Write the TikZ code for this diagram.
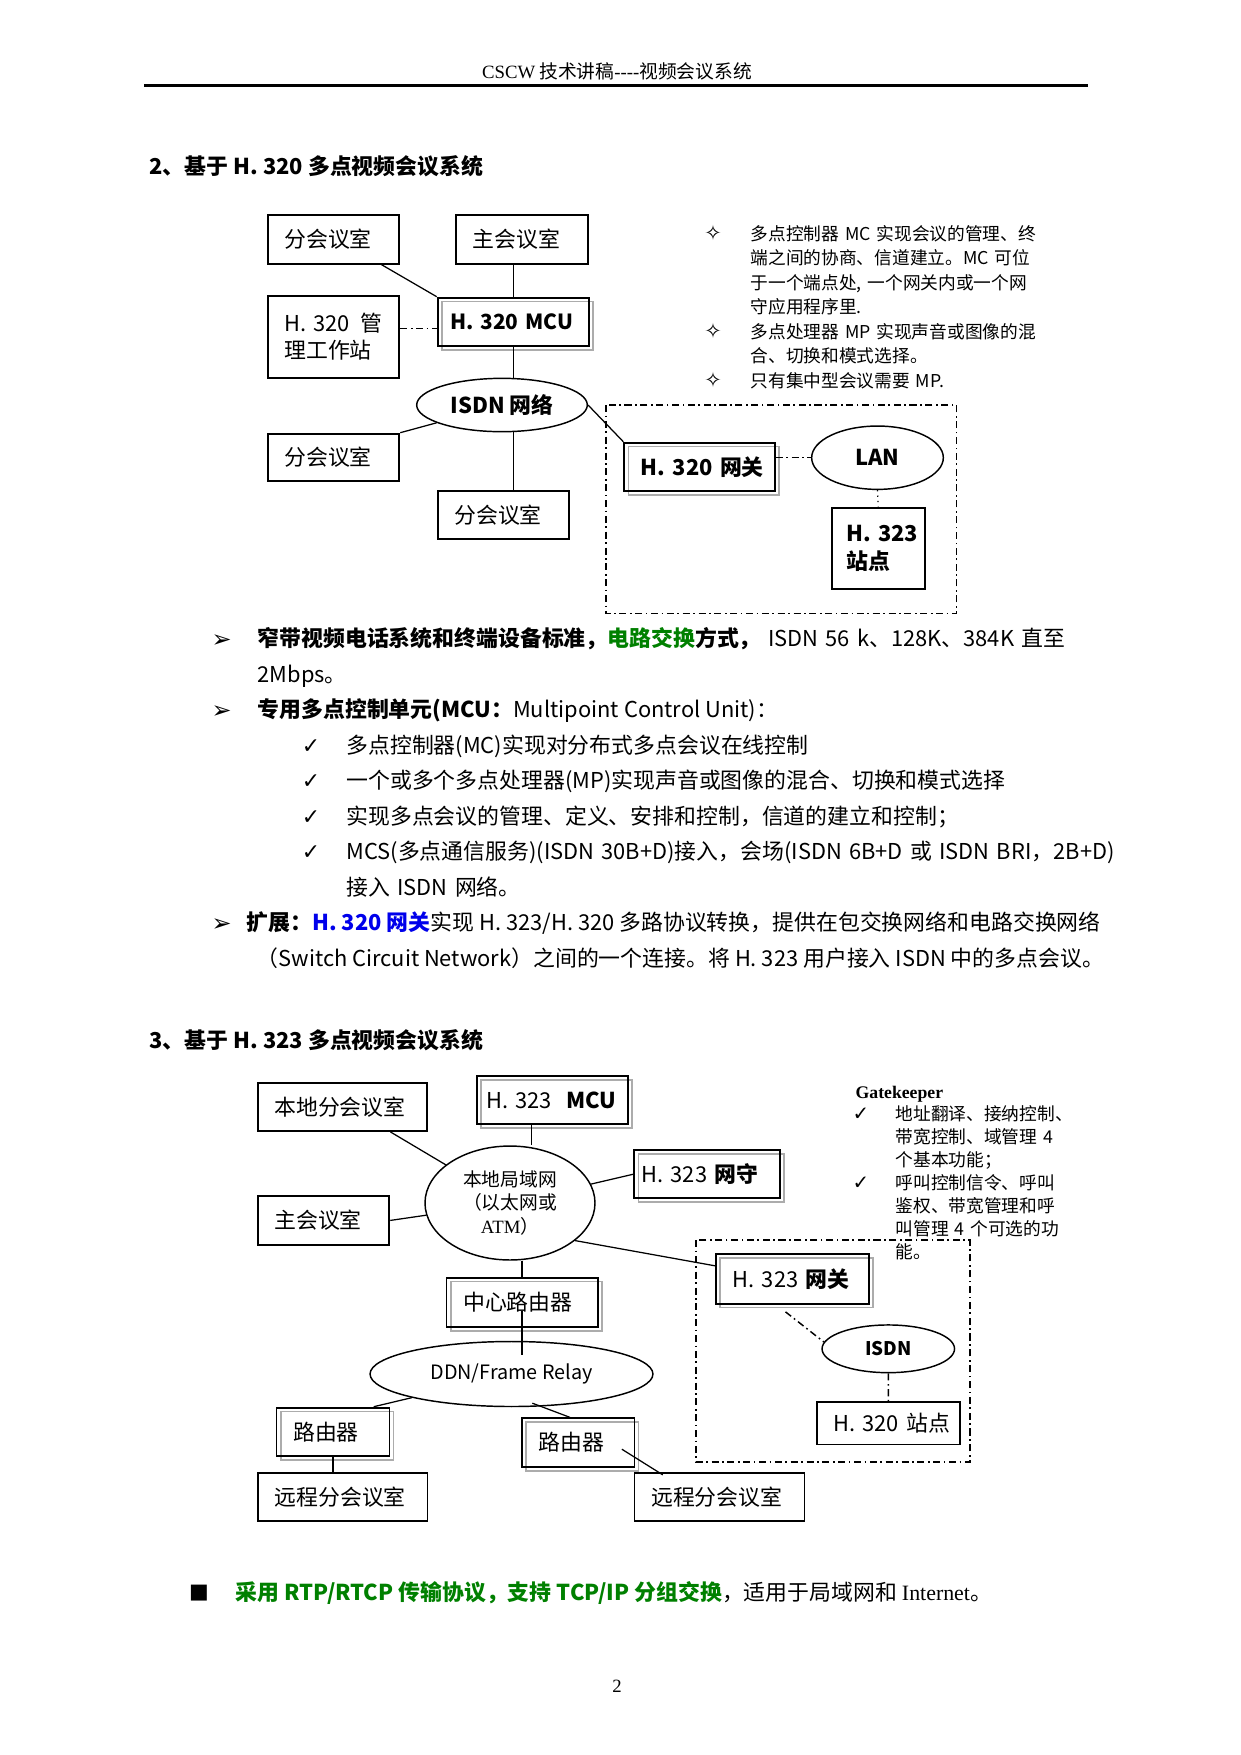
\documentclass[tikz,border=0pt]{standalone}
\usepackage{fontspec}
\setmainfont{Noto Sans CJK SC}
\newfontfamily\tnr{Liberation Serif}
\newfontfamily\dingfont{DejaVu Sans}
\usetikzlibrary{shapes.geometric,shadows}
\definecolor{hlgreen}{RGB}{0,128,0}
\definecolor{hlblue}{RGB}{0,0,235}

\begin{document}
\begin{tikzpicture}[x=0.48pt,y=-0.48pt,line width=0.6pt]
  \tikzset{
    room/.style={draw,line width=0.9pt,anchor=north west,inner xsep=8pt,inner ysep=0pt,
      align=left,font=\fontsize{10.5}{12.8}\selectfont},
    shd/.style={general shadow={draw=gray!65,line width=0.8pt,shadow xshift=2pt,shadow yshift=-1.8pt}},
    net/.style={draw,ellipse,line width=0.7pt,inner sep=0pt,align=center,font=\fontsize{10.5}{12}\selectfont},
    dashdot/.style={line width=0.7pt,dash pattern=on 3.4pt off 1.7pt on 0.8pt off 1.7pt},
    txt/.style={anchor=base west,inner sep=0pt,align=left,font=\fontsize{10.5}{17.04}\selectfont},
    note/.style={anchor=base west,inner sep=0pt,align=left,text width=170pt,font=\fontsize{8.5}{11.76}\selectfont},
    bul/.style={anchor=base,inner sep=0pt,font=\dingfont\fontsize{10.5}{10.5}\selectfont}
  }
  \fill[white] (0,0) rectangle (1241,1755);
  \useasboundingbox (0,0) rectangle (1241,1755);

  % page head
  \node[anchor=base,inner sep=0pt,font=\fontsize{9}{9}\selectfont] (hdr) at (617,78.5) {{\tnr CSCW} 技术讲稿{\tnr ----}视频会议系统};
  \draw[line width=1.1pt] (144,85.5) -- (1088,85.5);

  \node[txt,font=\fontsize{10.5}{12}\selectfont\bfseries] (title1) at (149,174.3) {2、基于 H. 320 多点视频会议系统};

  % H.320 diagram
  \node[room,text width=47.2pt,minimum height=23.4pt] (sub1) at (266.7,214) {分会议室};
  \node[room,text width=47.2pt,minimum height=23.4pt] (main1) at (455,214) {主会议室};
  \node[room,text width=47.2pt,minimum height=39.2pt] (mgmt) at (266.7,295) {H.~320\hfill 管\\理工作站};
  \node[room,shd,inner xsep=6pt,text width=60.6pt,minimum height=23.2pt,font=\fontsize{10}{12.8}\selectfont\bfseries] (mcu1) at (436.7,296.7) {H.~320~MCU};
  \node[net,minimum width=81.9pt,minimum height=25.6pt,font=\fontsize{10.5}{12}\selectfont\bfseries] (isdn1) at (502,405) {ISDN~网络};
  \node[room,text width=47.2pt,minimum height=22.7pt] (sub2) at (266.7,432.7) {分会议室};
  \node[room,text width=47.2pt,minimum height=23.2pt] (sub3) at (436.7,490) {分会议室};
  \node[room,shd,text width=56.3pt,minimum height=23.2pt,font=\fontsize{10.5}{12.8}\selectfont\bfseries] (gw1) at (623.3,441.7) {H.~320~网关};
  \node[net,minimum width=63.2pt,minimum height=30.4pt,font=\fontsize{10.5}{12}\selectfont\bfseries] (lan1) at (877.5,457.7) {LAN};
  \node[room,inner xsep=7pt,text width=30.8pt,minimum height=39.2pt,font=\fontsize{10.5}{13.6}\selectfont\bfseries] (sta1) at (830.7,506.7) {H.~323\\站点};
  \draw[dashdot] (606,405) rectangle (956.7,613.3);

  \draw ([xshift=-9pt]sub1.south east) -- (mcu1.north west);
  \draw (mcu1.north) -- (mcu1.north |- main1.south);
  \draw[dashdot] ([yshift=4pt]mgmt.east) -- ([yshift=4pt]mgmt.east -| mcu1.west);
  \draw (mcu1.south) -- (mcu1.south |- isdn1.north);
  \draw (sub2.north east) -- (isdn1);
  \draw (mcu1.south |- isdn1.south) -- (mcu1.south |- sub3.north);
  \draw (isdn1.east) -- (gw1.north west);
  \draw[dashdot] (lan1.west -| gw1.east) -- (lan1.west);
  \draw[dotted] (lan1.south) -- (sta1.north);

  \node[bul,font=\dingfont\fontsize{10}{10}\selectfont] (s1) at (713,240) {✧};
  \node[note] (n1) at (750,240) {多点控制器 MC 实现会议的管理、终\\端之间的协商、信道建立。MC 可位\\于一个端点处, 一个网关内或一个网\\守应用程序里.};
  \node[bul,font=\dingfont\fontsize{10}{10}\selectfont] (s2) at (713,338) {✧};
  \node[note] (n2) at (750,338) {多点处理器 MP 实现声音或图像的混\\合、切换和模式选择。};
  \node[bul,font=\dingfont\fontsize{10}{10}\selectfont] (s3) at (713,387) {✧};
  \node[note] (n3) at (750,387) {只有集中型会议需要 MP.};

  % text below the H.320 diagram
  \node[bul,font=\dingfont\fontsize{11.5}{11.5}\selectfont] (b1) at (221.6,647.6) {➢};
  \node[txt,text width=460pt] (p1) at (257,646.6) {{\bfseries 窄带视频电话系统和终端设备标准，\textcolor{hlgreen}{电路交换}方式，} ISDN 56 k、128K、384K 直至\\2Mbps。};
  \node[bul,font=\dingfont\fontsize{11.5}{11.5}\selectfont] (b2) at (221.6,718.6) {➢};
  \node[txt] (p2) at (257,717.6) {{\bfseries 专用多点控制单元(MCU：}Multipoint Control Unit)：};
  \node[bul] (c1) at (311,753.1) {✓};
  \node[txt] (q1) at (345.8,753.1) {多点控制器(MC)实现对分布式多点会议在线控制};
  \node[bul] (c2) at (311,788.6) {✓};
  \node[txt] (q2) at (345.8,788.6) {一个或多个多点处理器(MP)实现声音或图像的混合、切换和模式选择};
  \node[bul] (c3) at (311,824.1) {✓};
  \node[txt] (q3) at (345.8,824.1) {实现多点会议的管理、定义、安排和控制，信道的建立和控制；};
  \node[bul] (c4) at (311,859.6) {✓};
  \node[txt,text width=460pt] (q4) at (345.8,859.6) {MCS(多点通信服务)(ISDN 30B+D)接入，会场(ISDN 6B+D 或 ISDN BRI，2B+D)\\接入 ISDN 网络。};
  \node[bul,font=\dingfont\fontsize{11.5}{11.5}\selectfont] (b3) at (221.6,931.6) {➢};
  \node[txt] (ext1) at (246,930.6) {{\bfseries 扩展：}{\color{hlblue}\bfseries H. 320 网关}实现 H. 323/H. 320 多路协议转换，提供在包交换网络和电路交换网络};
  \node[txt] (ext2) at (256,966.1) {（Switch Circuit Network）之间的一个连接。将 H. 323 用户接入 ISDN 中的多点会议。};

  \node[txt,font=\fontsize{10.5}{12}\selectfont\bfseries] (title2) at (149,1048) {3、基于 H. 323 多点视频会议系统};

  % H.323 diagram
  \node[room,text width=65.3pt,minimum height=23.2pt] (local) at (256.7,1081.7) {本地分会议室};
  \node[room,shd,inner xsep=4.5pt,text width=63.3pt,minimum height=23.2pt] (mcu2) at (476,1075) {H.~323~~\textbf{MCU}};
  \node[net,minimum width=81.6pt,minimum height=54.7pt,font=\fontsize{9}{11.5}\selectfont] (lan2) at (510,1203) {本地局域网\\（以太网或\\{\tnr ATM}）};
  \node[room,text width=47.2pt,minimum height=23.5pt] (main2) at (256.7,1195) {主会议室};
  \node[room,shd,inner xsep=3.5pt,text width=62.9pt,minimum height=23pt] (gk) at (633.3,1149.3) {H.~323~\textbf{网守}};
  \node[room,shd,text width=57.4pt,minimum height=23.7pt] (gw2) at (715,1253.3) {H.~323~\textbf{网关}};
  \node[room,shd,text width=56.5pt,minimum height=23.7pt] (crouter) at (445.6,1276.7) {中心路由器};
  \node[net,minimum width=135.8pt,minimum height=31.2pt,font=\fontsize{9.5}{11}\selectfont] (ddn) at (511.5,1374) {DDN/Frame Relay};
  \node[net,minimum width=63.6pt,minimum height=22.9pt,font=\fontsize{9}{10}\selectfont\bfseries] (isdn2) at (888.3,1348.8) {ISDN};
  \node[room,shd,text width=38.2pt,minimum height=23.2pt] (router1) at (275.6,1406.7) {路由器};
  \node[room,shd,text width=38pt,minimum height=23.4pt] (router2) at (521,1417.3) {路由器};
  \node[room,text width=65.4pt,minimum height=23.2pt] (remote1) at (257,1471.7) {远程分会议室};
  \node[room,text width=65.6pt,minimum height=23.2pt] (remote2) at (633.6,1471.7) {远程分会议室};
  \node[room,text width=52.7pt,minimum height=20.4pt] (sta2) at (815.8,1401) {H.~320~站点};
  \draw[dashdot] (696,1240) rectangle (970,1462);

  \draw ([xshift=-18pt]local.south east) -- (lan2);
  \draw ([xshift=-10pt]mcu2.south) -- ([xshift=-10pt]mcu2.south |- lan2.north);
  \draw (main2.east) -- (lan2);
  \draw (lan2) -- (gk.west);
  \draw (lan2.-30) -- ([yshift=-6pt]gw2.north west);
  \draw (crouter.north |- lan2.south) -- (crouter.north);
  \draw ([yshift=-4pt]crouter.center) -- ([yshift=-7pt]crouter.center |- ddn.north);
  \draw (ddn) -- ([xshift=-8pt]router1.north east);
  \draw (router1.south) -- (router1.south |- remote1.north);
  \draw ([shift={(10pt,-14pt)}]ddn.center) -- ([xshift=-4pt]router2.north);
  \draw ([shift={(-6.5pt,9pt)}]router2.south east) -- ([shift={(14pt,-1.5pt)}]remote2.north west);
  \draw[dashdot] ([shift={(-3.3pt,-3.5pt)}]gw2.south) -- (isdn2.174);
  \draw[dashdot] (isdn2.south) -- (sta2.north);

  \node[anchor=base west,inner sep=0pt,font=\tnr\bfseries\fontsize{8.5}{9}\selectfont] (gktitle) at (855,1098.8) {Gatekeeper};
  \node[bul,font=\dingfont\fontsize{9.5}{9.5}\selectfont] (g1) at (861,1120) {✓};
  \node[note,font=\fontsize{8.5}{11.07}\selectfont] (gn1) at (895,1120) {地址翻译、接纳控制、\\带宽控制、域管理 4\\个基本功能；};
  \node[bul,font=\dingfont\fontsize{9.5}{9.5}\selectfont] (g2) at (861,1189.2) {✓};
  \node[note,font=\fontsize{8.5}{11.07}\selectfont] (gn2) at (895,1189.2) {呼叫控制信令、呼叫\\鉴权、带宽管理和呼\\叫管理 4 个可选的功\\能。};

  % closing line and page number
  \node[bul,font=\dingfont\fontsize{10}{10}\selectfont] (sq) at (199,1598) {■};
  \node[txt] (last) at (235,1600) {{\color{hlgreen}\bfseries 采用 RTP/RTCP 传输协议，支持 TCP/IP 分组交换}，适用于局域网和 {\tnr Internet}。};
  \node[anchor=base,inner sep=0pt,font=\tnr\fontsize{9}{9}\selectfont] (pg) at (617,1692) {2};
\end{tikzpicture}
\end{document}
